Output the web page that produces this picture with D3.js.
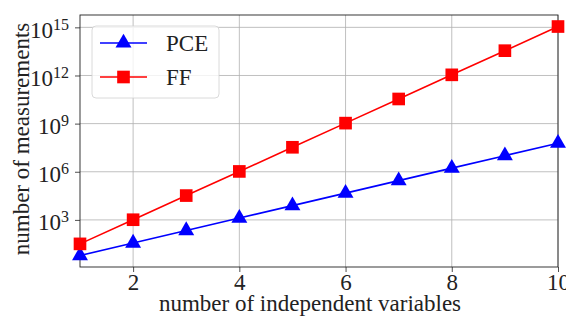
<!DOCTYPE html>
<html>
<head>
<meta charset="utf-8">
<script src="https://cdn.jsdelivr.net/npm/d3@7"></script>
<style>
  html, body { margin: 0; padding: 0; background: #fff; }
  svg text { font-family: "Liberation Serif", "DejaVu Serif", serif; fill: #222; }
</style>
</head>
<body>
<svg id="chart" width="566" height="320"></svg>
<script>
const nVars = [1, 2, 3, 4, 5, 6, 7, 8, 9, 10];
const pceValues = [6, 36, 216, 1296, 7776, 46656, 279936, 1679616, 10077696, 60466176];
const ffValues = [32, 1024, 32768, 1048576, 33554432, 1073741824, 34359738368,
    1099511627776, 35184372088832, 1125899906842624];
const xTicks = [2, 4, 6, 8, 10];
const yTickExps = [3, 6, 9, 12, 15];

const margin = {left: 80, right: 8, top: 15, bottom: 53};
const width = 566, height = 320;

const svg = d3.select("#chart");

const x = d3.scaleLinear()
    .domain([1, 10])
    .range([margin.left, width - margin.right]);
const y = d3.scaleLog()
    .domain([Math.pow(10, 0.064), Math.pow(10, 15.77)])
    .range([height - margin.bottom, margin.top]);

// grid
svg.append("g").selectAll("line")
    .data(xTicks)
    .enter().append("line")
    .attr("x1", d => x(d)).attr("x2", d => x(d))
    .attr("y1", margin.top).attr("y2", height - margin.bottom)
    .attr("stroke", "#b0b0b0").attr("stroke-width", 0.8);
svg.append("g").selectAll("line")
    .data(yTickExps)
    .enter().append("line")
    .attr("x1", margin.left).attr("x2", width - margin.right)
    .attr("y1", d => y(Math.pow(10, d))).attr("y2", d => y(Math.pow(10, d)))
    .attr("stroke", "#b0b0b0").attr("stroke-width", 0.8);

// axes
const xAxis = svg.append("g")
    .attr("transform", `translate(0,${height - margin.bottom})`)
    .call(d3.axisBottom(x).tickValues(xTicks).tickSize(5).tickPadding(2).tickSizeOuter(0));
xAxis.selectAll("text").style("font-size", "23px").attr("fill", "#222");

const yAxis = svg.append("g")
    .attr("transform", `translate(${margin.left},0)`)
    .call(d3.axisLeft(y).tickValues(yTickExps.map(e => Math.pow(10, e)))
        .tickSize(5).tickPadding(6).tickSizeOuter(0).tickFormat(() => ""));
yAxis.selectAll(".tick").each(function(d) {
    const t = d3.select(this).select("text")
        .attr("dy", "0.42em")
        .style("font-size", "23px");
    t.text("10");
    t.append("tspan")
        .attr("dy", "-0.5em")
        .style("font-size", "16px")
        .text(Math.round(Math.log10(d)));
});
svg.selectAll(".domain").remove();
svg.selectAll(".tick line").attr("stroke", "#222").attr("stroke-width", 0.8);

// frame
svg.append("rect")
    .attr("x", margin.left).attr("y", margin.top)
    .attr("width", width - margin.left - margin.right)
    .attr("height", height - margin.top - margin.bottom)
    .attr("fill", "none").attr("stroke", "#222").attr("stroke-width", 0.9);

// series
const series = [
    {name: "PCE", values: pceValues, color: "#0000ff", marker: d3.symbolTriangle},
    {name: "FF", values: ffValues, color: "#ff0000", marker: d3.symbolSquare}
];

const line = d3.line()
    .x((d, i) => x(nVars[i]))
    .y(d => y(d));

const plot = svg.append("g");
series.forEach(s => {
    plot.append("path")
        .datum(s.values)
        .attr("d", line)
        .attr("fill", "none")
        .attr("stroke", s.color)
        .attr("stroke-width", 1.6);
    const size = s.marker === d3.symbolSquare ? 160 : 110;
    plot.selectAll(null)
        .data(s.values)
        .enter().append("path")
        .attr("d", d3.symbol().type(s.marker).size(size))
        .attr("transform", (d, i) => `translate(${x(nVars[i])},${y(d)})`)
        .attr("fill", s.color);
});

// legend
const legend = svg.append("g");
legend.append("rect")
    .attr("x", 92).attr("y", 26)
    .attr("width", 127).attr("height", 72)
    .attr("rx", 4)
    .attr("fill", "#fff").attr("fill-opacity", 0.8)
    .attr("stroke", "#d0d0d0").attr("stroke-width", 0.8);
series.forEach((s, i) => {
    const ly = 43 + i * 34;
    legend.append("line")
        .attr("x1", 100).attr("x2", 147)
        .attr("y1", ly).attr("y2", ly)
        .attr("stroke", s.color).attr("stroke-width", 1.6);
    legend.append("path")
        .attr("d", d3.symbol().type(s.marker).size(s.marker === d3.symbolSquare ? 160 : 110))
        .attr("transform", `translate(123.5,${ly})`)
        .attr("fill", s.color);
    legend.append("text")
        .attr("x", 166).attr("y", ly + 8)
        .style("font-size", "23px")
        .text(s.name);
});

// axis labels
svg.append("text")
    .attr("x", 310).attr("y", 311)
    .attr("text-anchor", "middle")
    .style("font-size", "23px")
    .text("number of independent variables");
svg.append("text")
    .attr("transform", "translate(29,139) rotate(-90)")
    .attr("text-anchor", "middle")
    .style("font-size", "23px")
    .text("number of measurements");
</script>
</body>
</html>
